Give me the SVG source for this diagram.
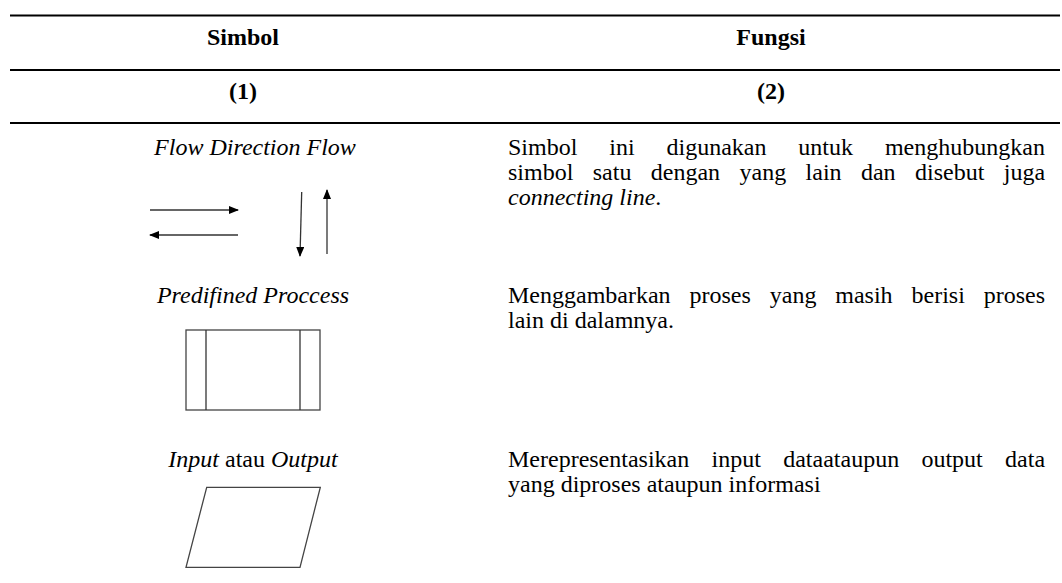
<svg xmlns="http://www.w3.org/2000/svg" width="1062" height="583" viewBox="0 0 1062 583">
<defs>
<style>
text{font-family:"Liberation Serif","Times New Roman",serif;font-size:24px;fill:#000}
.h{font-weight:bold;text-anchor:middle}
.c{text-anchor:middle;font-style:italic}
.i{font-style:italic}
.rule{stroke:#000;stroke-width:2}
.ln{stroke:#333;stroke-width:1.3;fill:none}
.sh{stroke:#444;stroke-width:1.3;fill:#fff}
</style>
<marker id="ah" viewBox="0 0 10 8" refX="9" refY="4" markerWidth="10" markerHeight="8" markerUnits="userSpaceOnUse" orient="auto">
<path d="M0,0 L10,4 L0,8 Z" fill="#000"/>
</marker>
</defs>
<rect width="1062" height="583" fill="#fff"/>
<g id="table">
<line class="rule" x1="10" y1="15.5" x2="1060" y2="15.5"/>
<line class="rule" x1="10" y1="70" x2="1060" y2="70"/>
<line class="rule" x1="10" y1="123" x2="1060" y2="123"/>
<text class="h" x="243" y="45">Simbol</text>
<text class="h" x="771" y="45">Fungsi</text>
<text class="h" x="243" y="99">(1)</text>
<text class="h" x="771" y="99">(2)</text>
</g>
<g id="row-flow">
<text class="c" x="255" y="155">Flow Direction Flow</text>
<text x="508" y="155" word-spacing="25.9">Simbol ini digunakan untuk menghubungkan</text>
<text x="508" y="180" word-spacing="13.4">simbol satu dengan yang lain dan disebut juga</text>
<text x="508" y="205"><tspan class="i">connecting line</tspan>.</text>
</g>
<g id="connectors">
<line class="ln" x1="150" y1="210" x2="238" y2="210" marker-end="url(#ah)"/>
<line class="ln" x1="238" y1="235" x2="150" y2="235" marker-end="url(#ah)"/>
<line class="ln" x1="301.7" y1="192" x2="300" y2="256" marker-end="url(#ah)"/>
<line class="ln" x1="327" y1="254" x2="327" y2="190" marker-end="url(#ah)"/>
</g>
<g id="row-predefined">
<text class="c" x="253" y="303">Predifined Proccess</text>
<rect class="sh" x="186" y="330" width="134" height="80"/>
<line class="ln" x1="206" y1="330" x2="206" y2="410"/>
<line class="ln" x1="300" y1="330" x2="300" y2="410"/>
<text x="508" y="303" word-spacing="12.9">Menggambarkan proses yang masih berisi proses</text>
<text x="508" y="328">lain di dalamnya.</text>
</g>
<g id="row-io">
<text x="253" y="467" text-anchor="middle"><tspan class="i">Input</tspan> atau <tspan class="i">Output</tspan></text>
<polygon class="sh" points="206.7,487.3 320.3,487.3 300,567.3 186,567.3"/>
<text x="508" y="467" word-spacing="16.3">Merepresentasikan input dataataupun output data</text>
<text x="508" y="492">yang diproses ataupun informasi</text>
</g>
</svg>
